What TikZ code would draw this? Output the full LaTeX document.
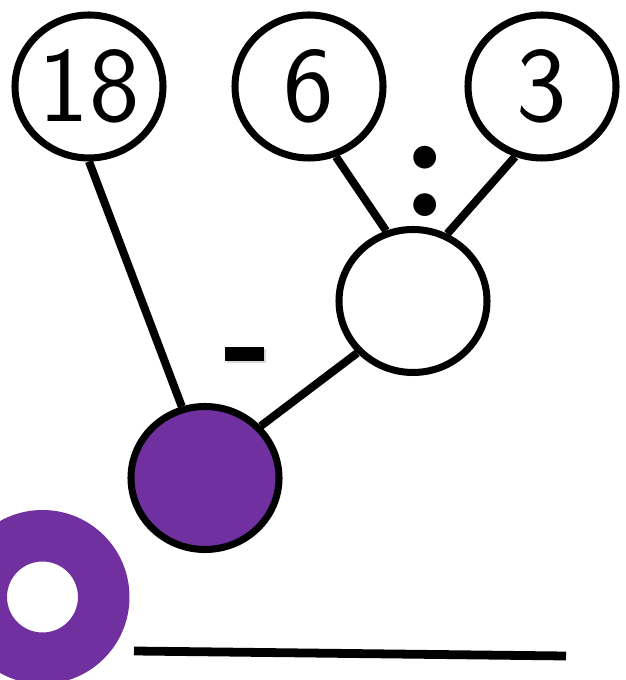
\documentclass[tikz,border=0pt]{standalone}
\usepackage{tikz}
\usepackage{xcolor}
\usetikzlibrary{shapes.geometric,shadows}

\definecolor{purp}{HTML}{7030A0}

\begin{document}
\begin{tikzpicture}[
    numcirc/.style={ellipse, draw, line width=4pt, fill=white, inner sep=0pt,
        minimum width=2.96cm, minimum height=2.86cm,
        font=\sffamily\fontsize{61}{64}\selectfont},
    branch/.style={line width=4.6pt}
]
\useasboundingbox (0,0) rectangle (12.5,13.6);

% purple ring in the corner
\fill[purp, even odd rule] (0.85,1.66) circle (1.74) (0.85,1.66) circle (0.71);

% top numbers
\foreach \name/\x/\val in {top18/1.78/18, top6/6.18/6, top3/10.84/3} {
    \node[numcirc] (\name) at (\x, 11.87) {\val};
}

% empty result circles
\node[numcirc] (mid) at (8.26, 7.58) {};
\node[numcirc, fill=purp] (res) at (4.10, 4.04) {};

% branches
\draw[branch] (top18.-90) -- (res.108);
\draw[branch] (top6.-69) -- (mid.111);
\draw[branch] (top3.-111) -- (mid.63);
\draw[branch] (mid.223) -- (res.43);

% operators
\node[fill=black, inner sep=0pt, minimum width=0.78cm, minimum height=0.28cm,
    drop shadow={shadow xshift=0.04cm, shadow yshift=-0.04cm, opacity=0.3}] (minus) at (4.89, 6.52) {};
\node[font=\bfseries\fontsize{90}{94}\selectfont, inner sep=0pt] (colon) at (8.5, 9.98) {:};

% answer line
\coordinate (lineL) at (2.68, 0.58);
\coordinate (lineR) at (11.32, 0.48);
\draw[line width=5pt] (lineL) -- (lineR);
\end{tikzpicture}
\end{document}
